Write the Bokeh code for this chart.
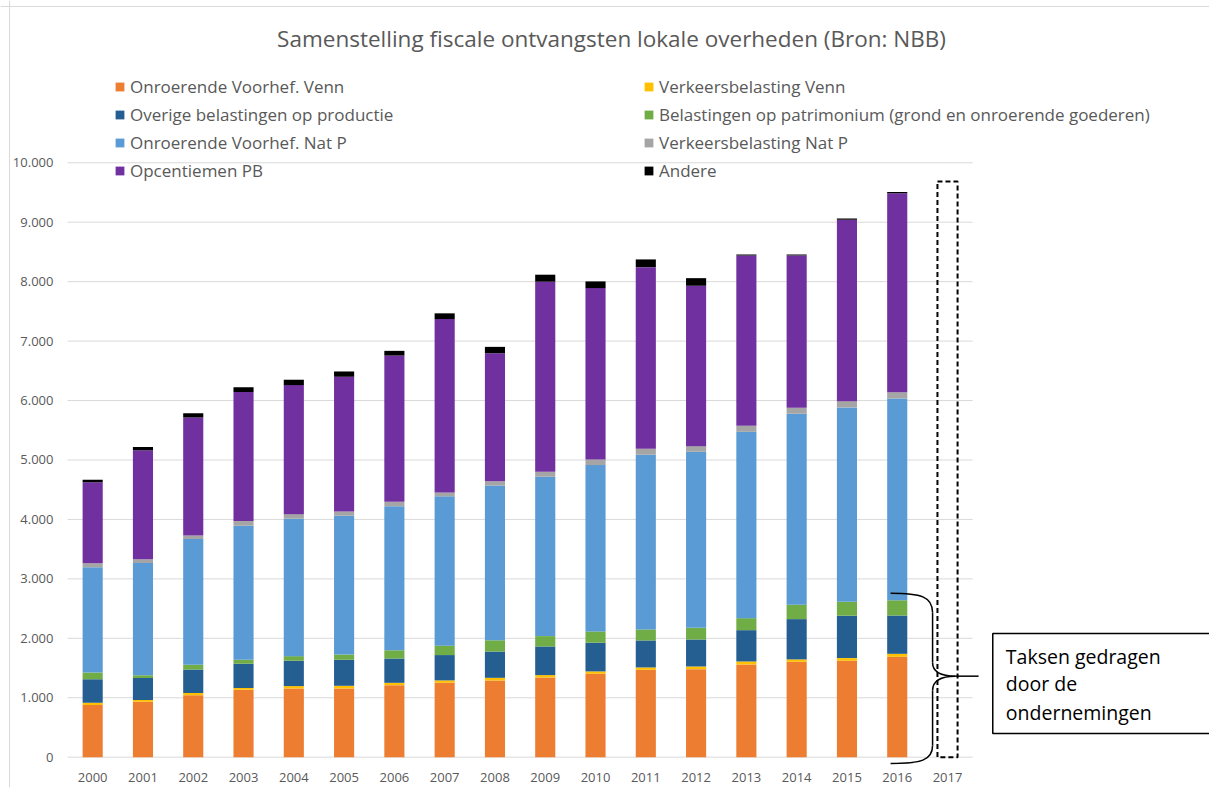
from bokeh.plotting import figure
from bokeh.models import ColumnDataSource, Range1d, Label, Span
from bokeh.core.properties import value
from bokeh.embed import file_html
from bokeh.resources import INLINE

# ---------------- data ----------------
years = [2000, 2001, 2002, 2003, 2004, 2005, 2006, 2007, 2008,
         2009, 2010, 2011, 2012, 2013, 2014, 2015, 2016]
year_labels = ["2000", "2001", "2002", "2003", "2004", "2005", "2006", "2007", "2008",
               "2009", "2010", "2011", "2012", "2013", "2014", "2015", "2016", "2017"]
onroerende_venn = [880, 932, 1043, 1134, 1156, 1156, 1211, 1252, 1290, 1341, 1403, 1470, 1481, 1560, 1605, 1622, 1689]
verkeers_venn = [35, 30, 35, 30, 40, 45, 40, 40, 45, 40, 40, 40, 45, 50, 40, 45, 50]
overige_productie = [397, 370, 398, 409, 427, 438, 409, 426, 442, 482, 483, 454, 454, 527, 678, 713, 644]
patrimonium = [113, 46, 79, 67, 77, 89, 139, 158, 190, 174, 190, 185, 197, 202, 242, 235, 257]
onroerende_natp = [1772, 1889, 2114, 2254, 2312, 2334, 2423, 2512, 2603, 2681, 2798, 2939, 2961, 3135, 3213, 3269, 3394]
verkeers_natp = [67, 62, 62, 79, 77, 72, 74, 67, 72, 84, 95, 101, 95, 101, 101, 106, 106]
opcentiemen_pb = [1363, 1834, 1985, 2171, 2171, 2266, 2461, 2916, 2154, 3197, 2883, 3055, 2698, 2865, 2562, 3052, 3348]
andere = [40, 56, 72, 78, 90, 89, 79, 96, 107, 118, 112, 130, 128, 17, 17, 22, 22]

series_names = ["Onroerende Voorhef. Venn", "Verkeersbelasting Venn",
                "Overige belastingen op productie",
                "Belastingen op patrimonium (grond en onroerende goederen)",
                "Onroerende Voorhef. Nat P", "Verkeersbelasting Nat P",
                "Opcentiemen PB", "Andere"]
series_keys = ["onroerende_venn", "verkeers_venn", "overige_productie", "patrimonium",
               "onroerende_natp", "verkeers_natp", "opcentiemen_pb", "andere"]
colors = ["#ED7D31", "#FFC000", "#255E91", "#70AD47", "#5B9BD5", "#A5A5A5", "#7030A0", "#000000"]

y_ticks = [0, 1000, 2000, 3000, 4000, 5000, 6000, 7000, 8000, 9000, 10000]
y_tick_labels = ["0", "1.000", "2.000", "3.000", "4.000", "5.000", "6.000", "7.000", "8.000", "9.000", "10.000"]

projection_year = [2017]
projection_total = [9685]

note_lines = ["Taksen gedragen", "door de", "ondernemingen"]

title_text = "Samenstelling fiscale ontvangsten lokale overheden (Bron: NBB)"

# ---------------- figure ----------------
FONT = "Open Sans"
GREY_TXT = "#595959"
W, H = 1209, 787

p = figure(width=W, height=H, output_backend="svg", toolbar_location=None,
           x_range=Range1d(1998.167, 2022.21), y_range=Range1d(-510, 12730),
           x_axis_location=None, y_axis_location=None,
           min_border_left=0, min_border_right=0, min_border_top=0, min_border_bottom=0)
p.outline_line_color = None
p.xgrid.visible = False
p.ygrid.visible = False

# chart-area border (top and left visible in the reference)
p.add_layout(Span(location=12630, dimension="width", line_color="#D9D9D9", line_width=1))
p.add_layout(Span(location=1998.346, dimension="height", line_color="#D9D9D9", line_width=1))

# gridlines (limited to the category area)
p.segment(x0=[years[0] - 0.5] * len(y_ticks), x1=[projection_year[0] + 0.5] * len(y_ticks),
          y0=y_ticks, y1=y_ticks, line_color="#D9D9D9", line_width=1, level="underlay")

# y tick labels
p.text(x=[years[0] - 0.78] * len(y_ticks), y=y_ticks, text=y_tick_labels,
       text_align="right", text_baseline="middle", text_font=value(FONT),
       text_font_size="13px", text_color=GREY_TXT)

# stacked bars
data = {"year": years}
for k, arr in zip(series_keys, [onroerende_venn, verkeers_venn, overige_productie, patrimonium,
                                 onroerende_natp, verkeers_natp, opcentiemen_pb, andere]):
    data[k] = arr
src = ColumnDataSource(data)
p.vbar_stack(series_keys, x="year", width=0.4, color=colors, source=src,
             legend_label=series_names, line_width=0)

# dashed 2017 box
p.vbar(x=projection_year, top=projection_total, bottom=0, width=0.4,
       fill_alpha=0, line_color="black", line_width=2, line_dash="5 3")

# x tick labels
p.text(x=years + projection_year, y=[-342] * len(year_labels), text=year_labels,
       text_align="center", text_baseline="middle", text_font=value(FONT),
       text_font_size="13px", text_color=GREY_TXT)

# brace
p.bezier(x0=[2015.868, 2016.703, 2017.161, 2016.703],
         y0=[2759, 1593, 1363, 197],
         x1=[2016.703, 2017.161, 2016.703, 2015.868],
         y1=[2434, 1363, 1122, -106],
         cx0=[2016.465, 2016.703, 2016.863, 2016.703],
         cy0=[2759, 1425, 1363, -56],
         cx1=[2016.703, 2016.863, 2016.703, 2016.465],
         cy1=[2704, 1363, 1290, -106],
         line_color="black", line_width=1.5)
p.segment(x0=[2016.703, 2016.703, 2017.161], y0=[2434, 1122, 1363],
          x1=[2016.703, 2016.703, 2017.618], y1=[1593, 197, 1363],
          line_color="black", line_width=1.5)

# note box
p.quad(left=[2017.9], right=[2023.5], top=[2081], bottom=[399],
       fill_color="white", line_color="black", line_width=1.5)
p.text(x=[2018.16] * 3, y=[1690, 1240, 760], text=note_lines,
       text_align="left", text_baseline="middle", text_font=value(FONT),
       text_font_size="19.5px", text_color="black")

# title
p.add_layout(Label(x=611, y=H - 38, x_units="screen", y_units="screen", text=title_text,
                   text_align="center", text_baseline="middle", text_font=FONT,
                   text_font_size="22.5px", text_color=GREY_TXT))

# legend (column-major layout -> reorder so rows read like the reference)
lg = p.legend[0]
items = list(lg.items)
lg.items = [items[0], items[2], items[4], items[6], items[1], items[3], items[5], items[7]]
lg.location = (114, H - 182)
lg.ncols = 2
lg.label_width = 508
lg.label_standoff = 5
lg.glyph_width = 11
lg.glyph_height = 11
lg.spacing = 5
lg.padding = 0
lg.margin = 0
lg.border_line_color = None
lg.background_fill_alpha = 0
lg.label_text_font = FONT
lg.label_text_font_size = "17px"
lg.label_text_color = GREY_TXT

open("out.html", "w").write(file_html(p, INLINE))
